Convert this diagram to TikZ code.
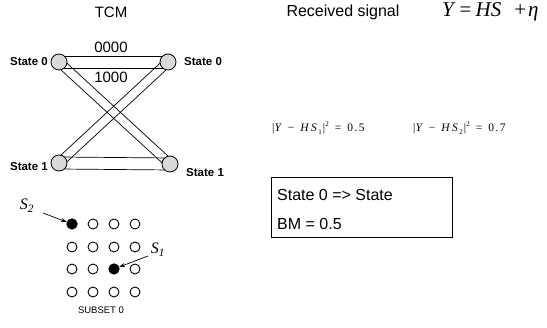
\documentclass[tikz,border=0pt]{standalone}
\usepackage{fontspec}
\setmainfont{Liberation Sans}
\newfontfamily\tms{Liberation Serif}
\usetikzlibrary{calc,arrows.meta,backgrounds}
\begin{document}
\begin{tikzpicture}[x=1pt,y=-1pt,
  st/.style={circle,draw,line width=0.8pt,fill=gray!30,minimum size=16pt,inner sep=0pt},
  stlab/.style={font=\fontsize{11.5}{13}\selectfont\bfseries,inner sep=0pt},
  lab/.style={font=\fontsize{15}{17}\selectfont,inner sep=0pt},
  pt/.style={circle,draw,line width=0.9pt,minimum size=10pt,inner sep=0pt},
  tr/.style={line width=0.7pt},
  arr/.style={line width=0.7pt,-{Stealth[length=6pt,width=4pt]}},
  eq/.style={font=\tms\fontsize{11.5}{13}\selectfont,inner sep=0pt,anchor=west},
  boxtxt/.style={font=\fontsize{16}{18}\selectfont,inner sep=0pt,anchor=base west}]
\useasboundingbox (0,0) rectangle (547,328);

% trellis
\node[st] (a0) at (59,62) {};
\node[st] (b0) at (168,62) {};
\node[st] (a1) at (59,163) {};
\node[st] (b1) at (170,164) {};
\begin{pgfonlayer}{background}
\foreach \u/\v/\d in {a0/b0/6pt, a1/b1/6pt, a0/b1/4.5pt, b0/a1/4.5pt} {
  \draw[tr] ($(\u.center)!\d!90:(\v.center)$) -- ($(\v.center)!\d!-90:(\u.center)$);
  \draw[tr] ($(\u.center)!\d!-90:(\v.center)$) -- ($(\v.center)!\d!90:(\u.center)$);
}
\end{pgfonlayer}

\node[lab] (tcm) at (111,12) {TCM};
\node[lab] (l0000) at (111,47) {0000};
\node[lab] (l1000) at (111,77) {1000};
\node[stlab,anchor=east] (la0) at (48,62) {State 0};
\node[stlab,anchor=west] (lb0) at (184,62) {State 0};
\node[stlab,anchor=east] (la1) at (48,167) {State 1};
\node[stlab,anchor=west] (lb1) at (186,173) {State 1};

% received signal
\node[inner sep=0pt,font=\fontsize{16}{18}\selectfont] (rs) at (343,12) {Received signal};
\node[inner sep=0pt,anchor=west,font=\tms\fontsize{21}{23}\selectfont] (yeq) at (442,12)
  {\textit{Y}\hspace{4pt}=\hspace{4pt}\textit{HS}\hspace{13pt}+\hspace{2pt}\textit{η}};

\node[eq] (e1) at (272,128) {|\textit{Y}\hspace{6pt}−\hspace{6pt}\textit{H}\hspace{2pt}\textit{S}\hspace{1.5pt}{\fontsize{7}{8}\selectfont\raisebox{-2.5pt}{1}}\hspace{1pt}|\raisebox{5pt}{\fontsize{7}{8}\selectfont 2}\hspace{6pt}=\hspace{6pt}0\hspace{1.5pt}.\hspace{1.5pt}5};
\node[eq] (e2) at (413,128) {|\textit{Y}\hspace{6pt}−\hspace{6pt}\textit{H}\hspace{2pt}\textit{S}\hspace{1.5pt}{\fontsize{7}{8}\selectfont\raisebox{-2.5pt}{2}}\hspace{1pt}|\raisebox{5pt}{\fontsize{7}{8}\selectfont 2}\hspace{6pt}=\hspace{6pt}0\hspace{1.5pt}.\hspace{1.5pt}7};

% box
\node[draw,line width=0.6pt,minimum width=181pt,minimum height=60pt,inner sep=0pt,anchor=north west] (box) at (271,177) {};
\node[boxtxt] (bt1) at (277,201) {State 0 => State};
\node[boxtxt] (bt2) at (277,230) {BM = 0.5};

% constellation
\foreach \r [count=\i from 0] in {224,247,269,292}
  \foreach \c [count=\j from 0] in {72,93,114,135}
    \node[pt] (p\i\j) at (\c,\r) {};
\fill (p00) circle (5.5pt);
\fill (p22) circle (5.5pt);

\node[inner sep=0pt,font=\tms\itshape\fontsize{16}{18}\selectfont] (s2) at (27,206) {S\textsubscript{2}};
\node[inner sep=0pt,font=\tms\itshape\fontsize{16}{18}\selectfont] (s1) at (158,250) {S\textsubscript{1}};
\coordinate (s2a) at (43,213);
\coordinate (s1a) at (148,256);
\draw[arr] (s2a) -- (p00);
\draw[arr] (s1a) -- (p22);
\node[inner sep=0pt,font=\fontsize{9.5}{11}\selectfont] (sub) at (101,310) {SUBSET 0};
\end{tikzpicture}
\end{document}
